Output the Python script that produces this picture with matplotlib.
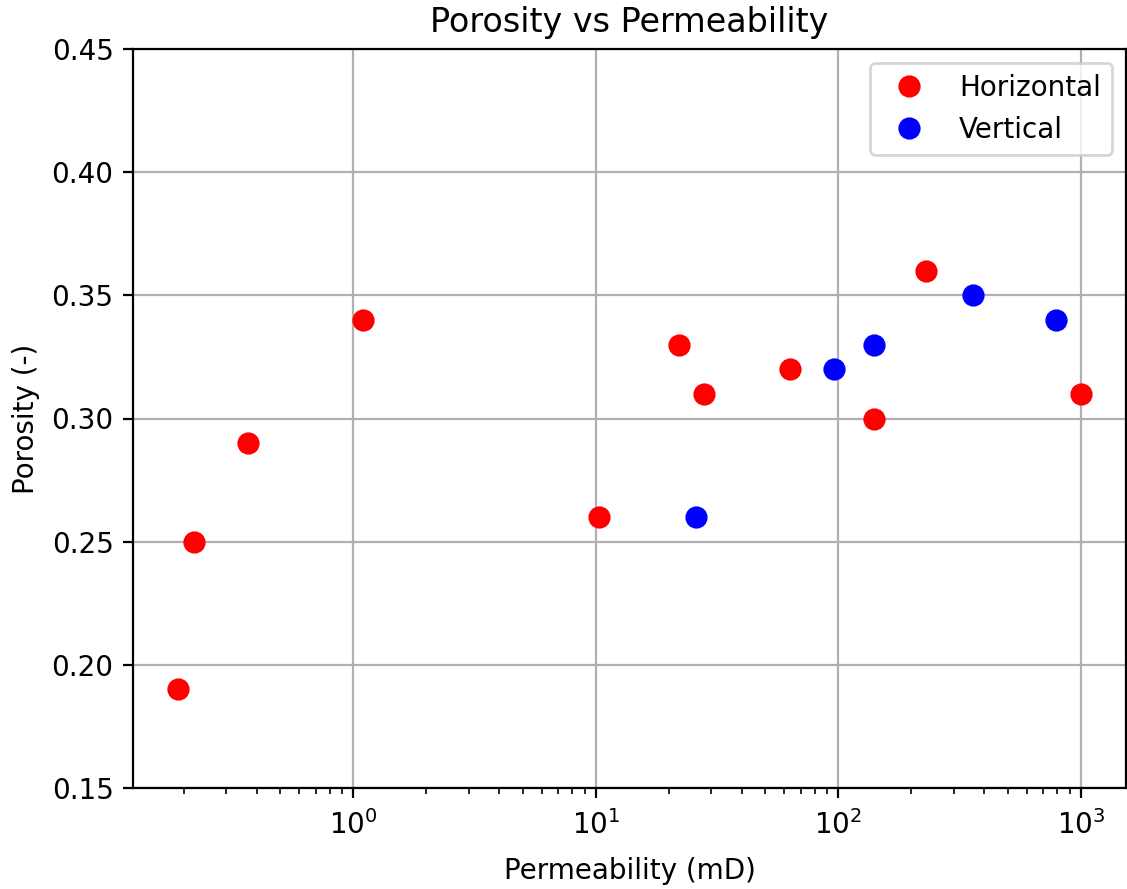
import matplotlib
matplotlib.use("Agg")
import matplotlib.pyplot as plt

# Horizontal samples
perm_h = [0.19, 0.22, 0.37, 1.1, 10.3, 22, 28, 63, 140, 230, 1000]
poro_h = [0.19, 0.25, 0.29, 0.34, 0.26, 0.33, 0.31, 0.32, 0.30, 0.36, 0.31]

# Vertical samples
perm_v = [26, 96, 140, 360, 790]
poro_v = [0.26, 0.32, 0.33, 0.35, 0.34]

fig = plt.figure(figsize=(1127 / 200, 889 / 200), dpi=200)
ax = fig.add_axes([133 / 1127, 1 - 788 / 889, (1126 - 133) / 1127, (788 - 49) / 889])

ax.plot(perm_h, poro_h, 'o', color='red', markersize=7, label='Horizontal')
ax.plot(perm_v, poro_v, 'o', color='blue', markersize=7, label='Vertical')

ax.set_xscale('log')
ax.set_ylim(0.15, 0.45)
ax.set_title("Porosity vs Permeability")
ax.set_xlabel("Permeability (mD)", labelpad=6)
ax.set_ylabel("Porosity (-)")
ax.tick_params(axis='x', which='major', pad=4.5)
ax.grid(True)
ax.legend(loc='upper right')

plt.savefig("out.png", dpi=200)
